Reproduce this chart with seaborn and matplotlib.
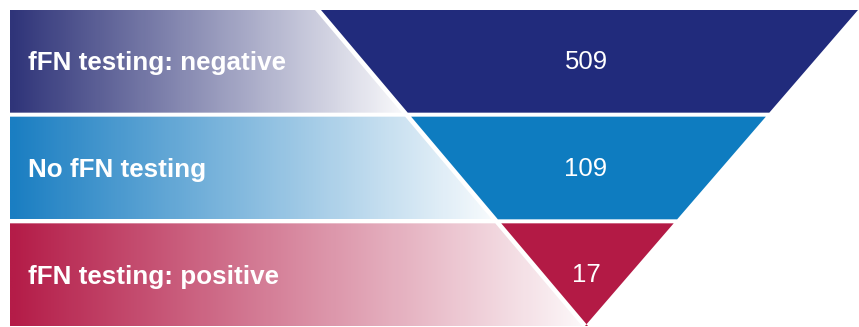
import numpy as np
import matplotlib
matplotlib.use("Agg")
import matplotlib.pyplot as plt
from matplotlib.patches import Polygon
import seaborn as sns

# data
labels = ["fFN testing: negative", "No fFN testing", "fFN testing: positive"]
counts = [509, 109, 17]
solid_colors = ["#212b7c", "#0e7cc0", "#b31a45"]
fade_colors = ["#2f3479", "#1a7ec2", "#b41c48"]

sns.set_theme(style="white")
plt.rcParams["font.family"] = ["Liberation Sans", "DejaVu Sans"]

W, H = 859, 327
fig = plt.figure(figsize=(W / 100, H / 100), dpi=100)
ax = fig.add_axes([0, 0, 1, 1])

# layout of the funnel (pixel-like units)
left = 10
top, bottom = 10, 326
band_gap = 4
apex_x = 585
top_left_x, top_right_x = 318, 858
diag_gap = 3

n = len(labels)
band_h = (bottom - top - band_gap * (n - 1)) / n


def x_left(y):
    return top_left_x + (apex_x - top_left_x) * (y - top) / (bottom - top)


def x_right(y):
    return top_right_x + (apex_x - top_right_x) * (y - top) / (bottom - top)


for i, (lab, cnt) in enumerate(zip(labels, counts)):
    y0 = top + i * (band_h + band_gap)
    y1 = y0 + band_h
    yc = (y0 + y1) / 2

    # funnel segment
    seg = Polygon([(x_left(y0) + diag_gap, y0), (x_right(y0), y0),
                   (x_right(y1), y1), (x_left(y1) + diag_gap, y1)],
                  closed=True, facecolor=solid_colors[i], edgecolor="none")
    ax.add_patch(seg)

    # faded label band
    xend = x_left(y1) - diag_gap
    clip = Polygon([(left, y0), (x_left(y0) - diag_gap, y0),
                    (xend, y1), (left, y1)],
                   closed=True, facecolor="none", edgecolor="none")
    ax.add_patch(clip)
    cmap = sns.blend_palette([fade_colors[i], "#ffffff"], as_cmap=True)
    grad = np.linspace(0, 1, 256).reshape(1, -1)
    im = ax.imshow(grad, cmap=cmap, extent=(left, xend, y1, y0),
                   aspect="auto", interpolation="bilinear", vmin=0, vmax=1.04)
    im.set_clip_path(clip)

    ax.text(28, yc + 9, lab, color="white", fontsize=18.7, fontweight="bold",
            ha="left", va="baseline")
    ax.text(apex_x + 1, yc + 7.5, str(cnt), color="white", fontsize=18.5,
            ha="center", va="baseline")

ax.set_xlim(0, W)
ax.set_ylim(H, 0)
ax.axis("off")

fig.savefig("out.png", dpi=100, facecolor="white")
